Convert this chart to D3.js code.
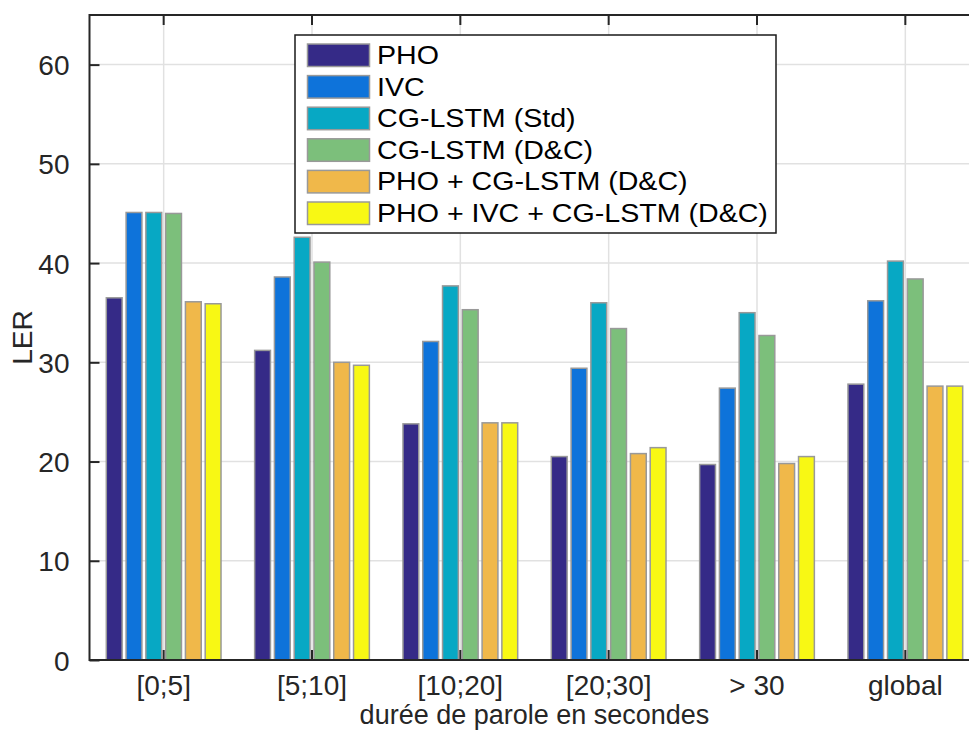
<!DOCTYPE html>
<html>
<head>
<meta charset="utf-8">
<script src="https://cdn.jsdelivr.net/npm/d3@7"></script>
<style>
  body { margin: 0; background: #fff; }
  svg { display: block; overflow: hidden; }
  text { font-family: "Liberation Sans", Arial, Helvetica, sans-serif; }
</style>
</head>
<body>
<div id="chart"></div>
<script>
const categories = ['[0;5]', '[5;10]', '[10;20]', '[20;30]', '> 30', 'global']
const series = ['PHO', 'IVC', 'CG-LSTM (Std)', 'CG-LSTM (D&C)', 'PHO + CG-LSTM (D&C)', 'PHO + IVC + CG-LSTM (D&C)']
const colors = ['#352a87', '#0e73da', '#07a8c4', '#7cbf7b', '#f0b84a', '#f8f814']

// LER per series, one value per category
const pho = [36.5, 31.2, 23.8, 20.5, 19.7, 27.8]
const ivc = [45.1, 38.6, 32.1, 29.4, 27.4, 36.2]
const cgStd = [45.1, 42.6, 37.7, 36.0, 35.0, 40.2]
const cgDc = [45.0, 40.1, 35.3, 33.4, 32.7, 38.4]
const phoCg = [36.1, 30.0, 23.9, 20.8, 19.8, 27.6]
const phoIvcCg = [35.9, 29.7, 23.9, 21.4, 20.5, 27.6]
const values = [pho, ivc, cgStd, cgDc, phoCg, phoIvcCg]

const yTicks = [0, 10, 20, 30, 40, 50, 60]

const width = 969
const height = 731
// right edge of the axes lies past the picture border, as in the original
const margin = { left: 89.5, top: 15, right: 979.5, bottom: 660 }

const svg = d3.select('#chart').append('svg')
  .attr('width', width)
  .attr('height', height)

const x = d3.scaleBand()
  .domain(categories)
  .range([margin.left, margin.right])

const bw = x.bandwidth()
const xInner = d3.scaleBand()
  .domain(series)
  .range([0.1 * bw, 0.9 * bw])
  .paddingInner(0.2)
  .paddingOuter(0.1)

const y = d3.scaleLinear()
  .domain([0, 65])
  .range([margin.bottom, margin.top])

const axisColor = '#262626'
const gridColor = '#e1e1e1'

// grid
svg.append('g')
  .selectAll('line')
  .data(yTicks.filter(d => d > 0))
  .join('line')
  .attr('x1', margin.left).attr('x2', margin.right)
  .attr('y1', d => y(d)).attr('y2', d => y(d))
  .attr('stroke', gridColor).attr('stroke-width', 1.5)

svg.append('g')
  .selectAll('line')
  .data(categories)
  .join('line')
  .attr('x1', d => x(d) + bw / 2).attr('x2', d => x(d) + bw / 2)
  .attr('y1', margin.top).attr('y2', margin.bottom)
  .attr('stroke', gridColor).attr('stroke-width', 1.5)

// bars
const rows = []
categories.forEach((c, ci) => {
  series.forEach((s, si) => {
    rows.push({ cat: c, series: s, value: values[si][ci], color: colors[si] })
  })
})

svg.append('g')
  .selectAll('rect')
  .data(rows)
  .join('rect')
  .attr('x', d => x(d.cat) + xInner(d.series))
  .attr('width', xInner.bandwidth())
  .attr('y', d => y(d.value))
  .attr('height', d => y(0) - y(d.value))
  .attr('fill', d => d.color)
  .attr('stroke', '#999999')
  .attr('stroke-width', 1.5)

// axes box
const box = svg.append('g')
box.append('rect')
  .attr('x', margin.left).attr('y', margin.top)
  .attr('width', margin.right - margin.left)
  .attr('height', margin.bottom - margin.top)
  .attr('fill', 'none')
  .attr('stroke', axisColor).attr('stroke-width', 2)

const yAxis = d3.axisLeft(y).tickValues(yTicks).tickSizeInner(-10).tickSizeOuter(0).tickPadding(20)
const gy = svg.append('g')
  .attr('transform', `translate(${margin.left},0)`)
  .call(yAxis)
gy.select('.domain').remove()
gy.selectAll('line').attr('stroke', axisColor).attr('stroke-width', 2)
gy.selectAll('text')
  .attr('font-size', 28)
  .attr('fill', axisColor)
  .attr('dy', '0.36em')
  .attr('font-family', '"Liberation Sans", Arial, sans-serif')

const xAxis = d3.axisBottom(x).tickSizeInner(-10).tickSizeOuter(0).tickPadding(15)
const gx = svg.append('g')
  .attr('transform', `translate(0,${margin.bottom})`)
  .call(xAxis)
gx.select('.domain').remove()
gx.selectAll('line').attr('stroke', axisColor).attr('stroke-width', 2)
gx.selectAll('text')
  .attr('font-size', 28)
  .attr('fill', axisColor)
  .attr('font-family', '"Liberation Sans", Arial, sans-serif')

// ticks on top edge
svg.append('g')
  .selectAll('line')
  .data(categories)
  .join('line')
  .attr('x1', d => x(d) + bw / 2).attr('x2', d => x(d) + bw / 2)
  .attr('y1', margin.top).attr('y2', margin.top + 10)
  .attr('stroke', axisColor).attr('stroke-width', 2)

// axis titles
svg.append('text')
  .attr('x', (margin.left + margin.right) / 2)
  .attr('y', 724)
  .attr('text-anchor', 'middle')
  .attr('font-size', 27)
  .attr('fill', axisColor)
  .text('durée de parole en secondes')

svg.append('text')
  .attr('transform', `translate(32,${(margin.top + margin.bottom) / 2}) rotate(-90)`)
  .attr('text-anchor', 'middle')
  .attr('font-size', 28)
  .attr('fill', axisColor)
  .text('LER')

// legend
const legend = svg.append('g').attr('transform', 'translate(295,35)')
legend.append('rect')
  .attr('width', 481).attr('height', 198)
  .attr('fill', '#fff')
  .attr('stroke', '#1a1a1a').attr('stroke-width', 1.5)

const item = legend.selectAll('g.item')
  .data(series)
  .join('g')
  .attr('class', 'item')
  .attr('transform', (d, i) => `translate(0,${9 + i * 31.6})`)

item.append('rect')
  .attr('x', 12.5).attr('width', 62).attr('height', 22.5)
  .attr('fill', (d, i) => colors[i])
  .attr('stroke', '#999999').attr('stroke-width', 1.5)

// legend labels are slightly wider than tall in the original
item.append('text')
  .attr('transform', 'translate(82,20) scale(1.1,1)')
  .attr('font-size', 26)
  .attr('fill', '#000')
  .text(d => d)
</script>
</body>
</html>
